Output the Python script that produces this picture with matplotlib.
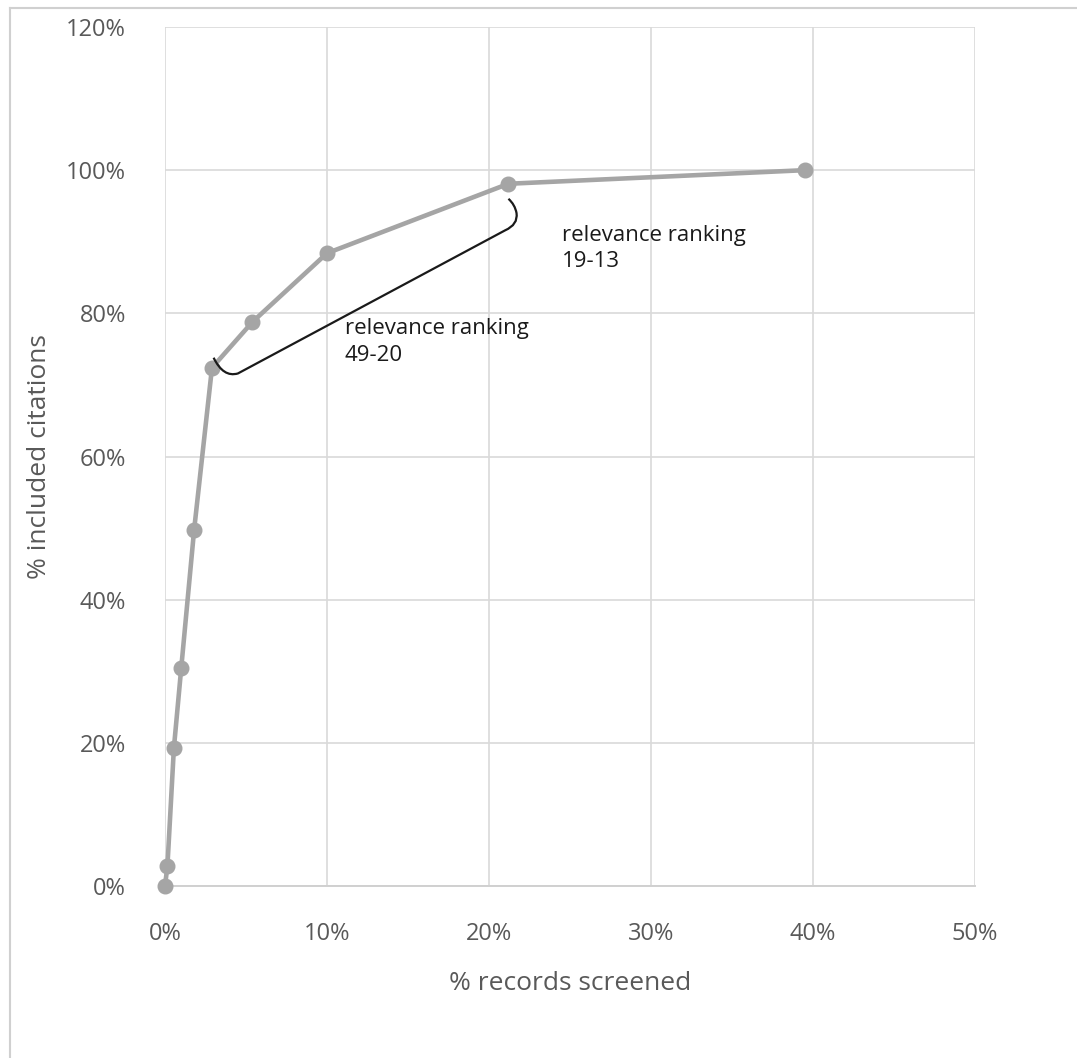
import matplotlib
matplotlib.use("Agg")
import matplotlib.pyplot as plt
from matplotlib.path import Path
from matplotlib.patches import PathPatch
from matplotlib.lines import Line2D
from matplotlib.ticker import FuncFormatter

# % records screened vs % included citations
records_screened = [0, 0.15, 0.55, 1.0, 1.8, 2.9, 5.4, 10.0, 21.2, 39.5]
included_citations = [0, 2.8, 19.3, 30.4, 49.8, 72.4, 78.8, 88.4, 98.1, 100]

x_ticks = [0, 10, 20, 30, 40, 50]
y_ticks = [0, 20, 40, 60, 80, 100, 120]

label_1 = "relevance ranking\n49-20"
label_2 = "relevance ranking\n19-13"

plt.rcParams["font.family"] = ["Open Sans", "DejaVu Sans"]

fig = plt.figure(figsize=(10.77, 10.58), dpi=100)
ax = fig.add_axes([165 / 1077, 1 - 886 / 1058, 810 / 1077, 859 / 1058])

ax.plot(records_screened, included_citations, color="#a5a5a5", linewidth=3.3,
        marker="o", markersize=10.5, zorder=3, clip_on=False)

ax.set_xlim(0, 50)
ax.set_ylim(0, 120)
ax.set_xticks(x_ticks)
ax.set_yticks(y_ticks)
pct = FuncFormatter(lambda v, p: f"{v:.0f}%")
ax.xaxis.set_major_formatter(pct)
ax.yaxis.set_major_formatter(pct)
ax.tick_params(length=0, labelsize=17, labelcolor="#595959")
ax.tick_params(axis="y", pad=28)
ax.tick_params(axis="x", pad=26)

ax.grid(True, color="#d9d9d9", linewidth=1.2)
ax.set_axisbelow(True)
for side in ["top", "right", "left"]:
    ax.spines[side].set_visible(False)
ax.spines["bottom"].set_color("#d0d0d0")
ax.spines["bottom"].set_linewidth(1.4)

ax.set_xlabel("% records screened", fontsize=19, color="#595959", labelpad=18)
ax.set_ylabel("% included citations", fontsize=19, color="#595959", labelpad=10)

# curly brace linking the two annotated points
verts = [(3.0, 73.8), (3.6, 71.0), (4.5, 71.6), (21.0, 91.6),
         (21.8, 92.4), (21.7, 94.0), (21.6, 95.2), (21.2, 96.0)]
codes = [Path.MOVETO, Path.CURVE3, Path.CURVE3, Path.LINETO,
         Path.CURVE3, Path.CURVE3, Path.CURVE3, Path.CURVE3]
ax.add_patch(PathPatch(Path(verts, codes), facecolor="none",
                       edgecolor="#1a1a1a", linewidth=1.6, zorder=4))

ax.text(11.1, 79.3, label_1, fontsize=16, color="#1a1a1a", va="top",
        ha="left", linespacing=1.35)
ax.text(24.5, 92.4, label_2, fontsize=16, color="#1a1a1a", va="top",
        ha="left", linespacing=1.35)

# outer frame of the chart area
fig.add_artist(Line2D([10 / 1077, 10 / 1077], [0, 1 - 8 / 1058],
                      transform=fig.transFigure, color="#d0d0d0", linewidth=1.5))
fig.add_artist(Line2D([10 / 1077, 1], [1 - 8 / 1058, 1 - 8 / 1058],
                      transform=fig.transFigure, color="#d0d0d0", linewidth=1.5))

fig.savefig("out.png", dpi=100)
